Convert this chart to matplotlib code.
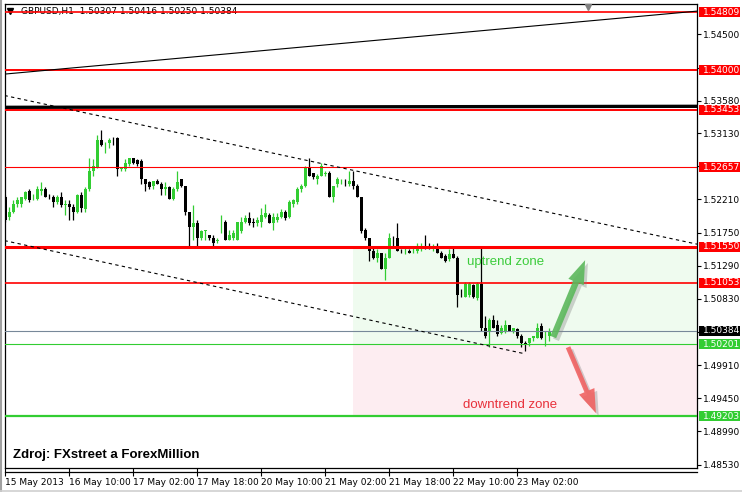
import matplotlib
matplotlib.use('Agg')
import matplotlib.pyplot as plt
import matplotlib.patheffects as pe
from matplotlib.patches import Rectangle
from matplotlib.lines import Line2D

# GBPUSD H1 bars, 15 May 2013 18:00 .. 23 May 2013 10:00
opens = [1.5225, 1.5197, 1.5203, 1.5215, 1.5215, 1.5222, 1.5232, 1.5221, 1.5222, 1.5233,
         1.5236, 1.5225, 1.5224, 1.5217, 1.5225, 1.5213, 1.5215, 1.5211, 1.5203, 1.5227,
         1.5207, 1.5236, 1.5261, 1.5265, 1.5304, 1.5296, 1.5299, 1.5304, 1.5306, 1.5263,
         1.5263, 1.5270, 1.5278, 1.5275, 1.5274, 1.5250, 1.5245, 1.5239, 1.5246, 1.5243,
         1.5236, 1.5238, 1.5222, 1.5236, 1.5249, 1.5239, 1.5203, 1.5182, 1.5188, 1.5168,
         1.5177, 1.5171, 1.5168, 1.5163, 1.5189, 1.5189, 1.5164, 1.5168, 1.5164, 1.5177,
         1.5189, 1.5195, 1.5189, 1.5188, 1.5190, 1.5196, 1.5200, 1.5188, 1.5193, 1.5196,
         1.5203, 1.5196, 1.5215, 1.5217, 1.5235, 1.5239, 1.5265, 1.5257, 1.5249, 1.5254,
         1.5256, 1.5258, 1.5225, 1.5243, 1.5246, 1.5247, 1.5243, 1.5247, 1.5240, 1.5224,
         1.5178, 1.5168, 1.5150, 1.5140, 1.5146, 1.5125, 1.5140, 1.5168, 1.5168, 1.5150,
         1.5149, 1.5150, 1.5149, 1.5149, 1.5154, 1.5157, 1.5156, 1.5154, 1.5157, 1.5147,
         1.5143, 1.5138, 1.5145, 1.5140, 1.5089, 1.5086, 1.5089, 1.5102, 1.5084, 1.5104,
         1.5043, 1.5039, 1.5054, 1.5046, 1.5035, 1.5039, 1.5046, 1.5039, 1.5041, 1.5032,
         1.5021, 1.5021, 1.5029, 1.5029, 1.5045, 1.5028, 1.5031]
highs = [1.5227, 1.5210, 1.5220, 1.5224, 1.5225, 1.5232, 1.5235, 1.5229, 1.5239, 1.5245,
         1.5238, 1.5229, 1.5227, 1.5227, 1.5231, 1.5220, 1.5220, 1.5215, 1.5228, 1.5231,
         1.5238, 1.5278, 1.5277, 1.5311, 1.5318, 1.5300, 1.5306, 1.5308, 1.5308, 1.5265,
         1.5277, 1.5278, 1.5278, 1.5277, 1.5277, 1.5250, 1.5246, 1.5247, 1.5249, 1.5245,
         1.5245, 1.5239, 1.5238, 1.5260, 1.5250, 1.5240, 1.5204, 1.5213, 1.5192, 1.5179,
         1.5179, 1.5172, 1.5171, 1.5167, 1.5199, 1.5192, 1.5179, 1.5178, 1.5189, 1.5196,
         1.5200, 1.5204, 1.5195, 1.5196, 1.5209, 1.5215, 1.5202, 1.5202, 1.5202, 1.5207,
         1.5206, 1.5220, 1.5222, 1.5238, 1.5243, 1.5267, 1.5279, 1.5257, 1.5256, 1.5271,
         1.5261, 1.5260, 1.5240, 1.5252, 1.5250, 1.5250, 1.5260, 1.5261, 1.5243, 1.5225,
         1.5181, 1.5168, 1.5153, 1.5152, 1.5147, 1.5146, 1.5174, 1.5170, 1.5188, 1.5152,
         1.5153, 1.5152, 1.5153, 1.5160, 1.5160, 1.5171, 1.5160, 1.5159, 1.5160, 1.5149,
         1.5145, 1.5152, 1.5153, 1.5142, 1.5096, 1.5106, 1.5106, 1.5104, 1.5106, 1.5154,
         1.5059, 1.5057, 1.5060, 1.5053, 1.5046, 1.5054, 1.5047, 1.5043, 1.5042, 1.5034,
         1.5025, 1.5029, 1.5032, 1.5050, 1.5049, 1.5039, 1.5042]
lows = [1.5190, 1.5193, 1.5202, 1.5210, 1.5211, 1.5220, 1.5218, 1.5220, 1.5220, 1.5227,
        1.5224, 1.5221, 1.5211, 1.5215, 1.5211, 1.5199, 1.5193, 1.5193, 1.5202, 1.5203,
        1.5204, 1.5233, 1.5254, 1.5265, 1.5295, 1.5286, 1.5293, 1.5297, 1.5253, 1.5261,
        1.5261, 1.5268, 1.5270, 1.5267, 1.5243, 1.5233, 1.5236, 1.5235, 1.5242, 1.5227,
        1.5227, 1.5221, 1.5220, 1.5233, 1.5238, 1.5200, 1.5154, 1.5165, 1.5154, 1.5164,
        1.5165, 1.5164, 1.5157, 1.5161, 1.5175, 1.5164, 1.5164, 1.5165, 1.5164, 1.5175,
        1.5188, 1.5185, 1.5182, 1.5184, 1.5182, 1.5195, 1.5188, 1.5178, 1.5189, 1.5195,
        1.5193, 1.5195, 1.5210, 1.5215, 1.5231, 1.5238, 1.5253, 1.5250, 1.5243, 1.5253,
        1.5254, 1.5224, 1.5217, 1.5238, 1.5243, 1.5239, 1.5240, 1.5235, 1.5224, 1.5175,
        1.5165, 1.5136, 1.5138, 1.5134, 1.5124, 1.5109, 1.5139, 1.5154, 1.5149, 1.5146,
        1.5145, 1.5146, 1.5146, 1.5147, 1.5149, 1.5152, 1.5152, 1.5150, 1.5146, 1.5139,
        1.5134, 1.5135, 1.5140, 1.5071, 1.5086, 1.5085, 1.5086, 1.5084, 1.5081, 1.5039,
        1.5029, 1.5016, 1.5043, 1.5032, 1.5034, 1.5036, 1.5038, 1.5036, 1.5029, 1.5016,
        1.5010, 1.5018, 1.5025, 1.5028, 1.5027, 1.5018, 1.5025]
closes = [1.5192, 1.5204, 1.5215, 1.5220, 1.5224, 1.5231, 1.5220, 1.5222, 1.5235, 1.5235,
          1.5225, 1.5224, 1.5217, 1.5225, 1.5213, 1.5214, 1.5210, 1.5203, 1.5227, 1.5209,
          1.5236, 1.5261, 1.5268, 1.5304, 1.5296, 1.5297, 1.5304, 1.5303, 1.5263, 1.5264,
          1.5271, 1.5278, 1.5271, 1.5270, 1.5250, 1.5243, 1.5238, 1.5246, 1.5242, 1.5235,
          1.5238, 1.5222, 1.5236, 1.5245, 1.5239, 1.5203, 1.5182, 1.5188, 1.5167, 1.5177,
          1.5178, 1.5168, 1.5161, 1.5164, 1.5190, 1.5164, 1.5172, 1.5174, 1.5189, 1.5190,
          1.5195, 1.5188, 1.5188, 1.5192, 1.5199, 1.5202, 1.5188, 1.5196, 1.5196, 1.5203,
          1.5195, 1.5217, 1.5220, 1.5236, 1.5240, 1.5265, 1.5254, 1.5252, 1.5253, 1.5268,
          1.5258, 1.5225, 1.5239, 1.5249, 1.5247, 1.5246, 1.5247, 1.5240, 1.5224, 1.5177,
          1.5167, 1.5150, 1.5140, 1.5147, 1.5125, 1.5140, 1.5168, 1.5167, 1.5150, 1.5149,
          1.5150, 1.5147, 1.5150, 1.5154, 1.5156, 1.5153, 1.5154, 1.5156, 1.5146, 1.5140,
          1.5136, 1.5145, 1.5140, 1.5088, 1.5088, 1.5104, 1.5104, 1.5085, 1.5104, 1.5042,
          1.5032, 1.5053, 1.5043, 1.5034, 1.5043, 1.5046, 1.5039, 1.5042, 1.5032, 1.5021,
          1.5020, 1.5029, 1.5031, 1.5043, 1.5028, 1.5029, 1.5038]

time_tick_bars = [0, 16, 32, 48, 64, 80, 96, 112, 128]
time_tick_labels = ['15 May 2013', '16 May 10:00', '17 May 02:00', '17 May 18:00',
                    '20 May 10:00', '21 May 02:00', '21 May 18:00', '22 May 10:00',
                    '23 May 02:00']
price_ticks = [1.48530, 1.48990, 1.49450, 1.49910, 1.50370, 1.50830, 1.51290,
               1.51750, 1.52210, 1.52670, 1.53130, 1.53580, 1.54040, 1.54500]
# these scale labels sit under the coloured price tags
hidden_ticks = [1.50370, 1.52670, 1.54040]

red_levels = [1.54809, 1.54000, 1.53453, 1.52657, 1.51550, 1.51053]
bid_level = 1.50384
green_levels = [1.50201, 1.49203]

# hand drawn trend lines: (bar, price) end points
upper_channel = [(-0.2, 1.53652), (172.9, 1.51589)]
lower_channel = [(-0.2, 1.51638), (129.4, 1.50073)]
rising_line = [(-0.2, 1.53949), (172.9, 1.54823)]
black_level = [(-0.2, 1.53488), (172.9, 1.53502)]

zone_start = 86.9
uptrend_zone = (1.50201, 1.51550)
downtrend_zone = (1.49203, 1.50201)

W, H = 742, 492
GREEN = '#32cd32'
RED = '#ff0000'

fig = plt.figure(figsize=(W / 100, H / 100), dpi=100)
fig.patch.set_facecolor('white')
ax = fig.add_axes([4.5 / W, (H - 468) / H, (697 - 4.5) / W, 464 / H])
ax.set_xlim(-0.2, 172.9)
ax.set_ylim(1.48482, 1.54922)
ax.set_facecolor('white')

# zones
ax.add_patch(Rectangle((zone_start, uptrend_zone[0]), 200, uptrend_zone[1] - uptrend_zone[0],
                       facecolor='#effbef', edgecolor='none', zorder=0.5))
ax.add_patch(Rectangle((zone_start, downtrend_zone[0]), 200, downtrend_zone[1] - downtrend_zone[0],
                       facecolor='#fdedf1', edgecolor='none', zorder=0.5))

# candles
for i in range(len(opens)):
    o, h, l, c = opens[i], highs[i], lows[i], closes[i]
    col = GREEN if c >= o else 'black'
    ax.vlines(i, l, h, color=col, lw=0.9, zorder=3)
    body = max(abs(c - o), 0.00008)
    ax.bar(i, body, bottom=min(o, c), width=0.75, color=col, linewidth=0, zorder=3)

# horizontal levels
red_widths = [1.2, 1.4, 1.4, 0.8, 2.2, 1.2]
for lvl, lw in zip(red_levels, red_widths):
    ax.axhline(lvl, color=RED, lw=lw, zorder=4)
ax.axhline(bid_level, color='#778899', lw=0.8, zorder=4)
ax.axhline(green_levels[0], color=GREEN, lw=0.8, zorder=4)
ax.axhline(green_levels[1], color=GREEN, lw=1.6, zorder=4)

# trend lines
ax.plot(*zip(*black_level), color='black', lw=2.4, zorder=4)
ax.plot(*zip(*rising_line), color='black', lw=0.8, zorder=4)
ax.plot(*zip(*upper_channel), color='black', lw=0.8, ls=(0, (3, 3)), zorder=4)
ax.plot(*zip(*lower_channel), color='black', lw=0.8, ls=(0, (3, 3)), zorder=4)

# zone texts
ax.text(115.4, 1.51346, 'uptrend zone', color='#3ccc3c', fontsize=9.5,
        family='Liberation Sans', va='center', ha='left', zorder=5)
ax.text(114.4, 1.49357, 'downtrend zone', color='#e8303a', fontsize=9.5,
        family='Liberation Sans', va='center', ha='left', zorder=5)

# arrows
shadow = [pe.withSimplePatchShadow(offset=(2, -2), shadow_rgbFace='gray', alpha=0.35)]
ax.annotate('', xy=(145.2, 1.51402), xytext=(136.7, 1.50264),
            arrowprops=dict(arrowstyle='simple,head_length=1.7,head_width=1.2,tail_width=0.45',
                            mutation_scale=10, color='#5cb85c', alpha=0.9, lw=0,
                            path_effects=shadow), zorder=6)
ax.annotate('', xy=(147.9, 1.49209), xytext=(140.4, 1.50194),
            arrowprops=dict(arrowstyle='simple,head_length=1.7,head_width=1.2,tail_width=0.35',
                            mutation_scale=10, color='#f06262', alpha=0.9, lw=0,
                            path_effects=shadow), zorder=6)

# axes frame and ticks
for s in ax.spines.values():
    s.set_color('black')
    s.set_linewidth(0.9)
ax.yaxis.tick_right()
ax.set_yticks(price_ticks)
ax.set_yticklabels(['' if p in hidden_ticks else '%.5f' % p for p in price_ticks])
ax.tick_params(axis='y', length=3, width=0.8, pad=1.5, labelsize=6.5, colors='black')
ax.set_xticks(time_tick_bars)
ax.set_xticklabels(time_tick_labels, ha='left')
ax.tick_params(axis='x', length=6, width=0.8, pad=1.5, labelsize=6.5)
fig.add_artist(Line2D([4.5 / W, 697 / W], [1 - 472 / H, 1 - 472 / H], color='black', lw=0.9))

# price labels on the right
trans = ax.get_yaxis_transform()
ax_w = 697 - 4.5
box_x = (699 - 4.5) / ax_w
box_w = 41 / ax_w
box_h = 10 * 0.0001388
tags = [(p, RED) for p in red_levels] + [(bid_level, 'black')] + [(p, GREEN) for p in green_levels]
for p, col in tags:
    ax.add_patch(Rectangle((box_x, p - box_h / 2), box_w, box_h, transform=trans,
                           facecolor=col, edgecolor='none', clip_on=False, zorder=8))
    ax.text(box_x + 3.5 / ax_w, p, '%.5f' % p, transform=trans, color='white', fontsize=6.5,
            va='center', ha='left', clip_on=False, zorder=9)

# header
ax.plot(1.2, 1.5483, marker='v', color='black', markersize=4.5, zorder=1, clip_on=False)
ax.text(3.8, 1.5482, 'GBPUSD,H1  1.50307 1.50416 1.50250 1.50384', fontsize=6.5,
        va='center', ha='left', zorder=1)
ax.plot(145.7, 1.54881, marker='v', color='#808080', markersize=5, clip_on=False, zorder=9)

fig.text(13 / W, 1 - 455 / H, 'Zdroj: FXstreet a ForexMillion', fontsize=9.5,
         fontweight='bold', family='Liberation Sans', va='center', ha='left')

# window border
fig.add_artist(Line2D([1 / W, 1 / W], [0, 1], color='#a0a0a0', lw=1.5))
fig.add_artist(Line2D([0, 1], [1.5 / H, 1.5 / H], color='#d0d0d0', lw=1.2))

fig.savefig('out.png', dpi=100)
